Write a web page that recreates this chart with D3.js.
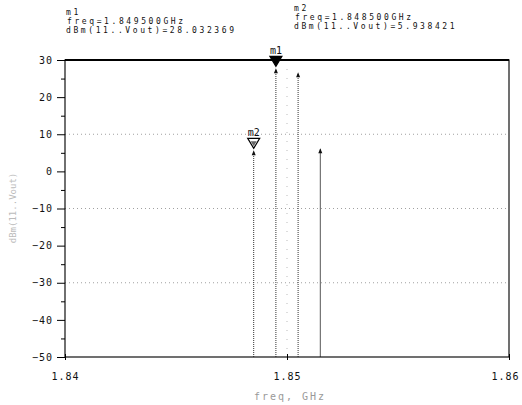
<!DOCTYPE html>
<html>
<head>
<meta charset="utf-8">
<script src="https://d3js.org/d3.v7.min.js"></script>
<style>
  body { margin: 0; background: #fff; }
  text { font-family: "DejaVu Sans Mono", monospace; fill: #111; }
  .tick text { font-size: 10px; letter-spacing: 1px; }
</style>
</head>
<body>
<svg width="522" height="405"></svg>
<script>
// spectrum lines (freq GHz, dBm)
var freqs = [1.8485, 1.8495, 1.8505, 1.8515];
var levels = [5.938421, 28.032369, 27.0, 6.5];
var yTicks = [30, 20, 10, 0, -10, -20, -30, -40, -50];
var xTicks = [1.84, 1.85, 1.86];
var gridLevels = [10, -10, -30];
var markers = [
  {name: "m1", freq: 1.8495, value: 28.032369, filled: true},
  {name: "m2", freq: 1.8485, value: 5.938421, filled: false}
];

var svg = d3.select("svg"),
    margin = {top: 60, right: 13, bottom: 48, left: 65},
    width = 522 - margin.left - margin.right,
    height = 405 - margin.top - margin.bottom,
    g = svg.append("g").attr("transform", "translate(" + margin.left + "," + margin.top + ")");

var x = d3.scaleLinear().domain([1.84, 1.86]).range([0, width]),
    y = d3.scaleLinear().domain([-50, 30]).range([height, 0]);

// faint dotted grid
g.selectAll(".grid").data(gridLevels).enter().append("line")
  .attr("x1", 0).attr("x2", width)
  .attr("y1", function(d) { return y(d); }).attr("y2", function(d) { return y(d); })
  .attr("stroke", "#888").attr("stroke-width", 0.8).attr("stroke-dasharray", "1,3");
g.append("line")
  .attr("x1", x(1.85)).attr("x2", x(1.85)).attr("y1", y(30)).attr("y2", y(-50))
  .attr("stroke", "#aaa").attr("stroke-width", 0.8).attr("stroke-dasharray", "1,8");

// spectral lines with arrowheads
var lines = g.selectAll(".spec").data(freqs).enter().append("g");
lines.append("line")
  .attr("x1", function(d) { return x(d); }).attr("x2", function(d) { return x(d); })
  .attr("y1", y(-50))
  .attr("y2", function(d, i) { return y(levels[i]) + 2; })
  .attr("stroke", function(d, i) { return i == 3 ? "#555" : "#333"; })
  .attr("stroke-width", 1)
  .attr("stroke-dasharray", function(d, i) { return i == 3 ? null : "1,1"; });
lines.append("path")
  .attr("d", function(d, i) {
    var px = x(d), py = y(levels[i]) + 1;
    return "M" + px + "," + py + "l-2,5l4,0z";
  })
  .attr("fill", "#111");

// frame
g.append("rect").attr("width", width).attr("height", height)
  .attr("fill", "none").attr("stroke", "#111").attr("stroke-width", 1.2);
g.append("line").attr("x1", 0).attr("x2", width).attr("y1", 0).attr("y2", 0)
  .attr("stroke", "#000").attr("stroke-width", 2);

// axes
var yAxis = g.append("g")
  .call(d3.axisLeft(y).tickValues(yTicks).tickSize(8).tickPadding(4));
yAxis.select(".domain").remove();
g.append("g")
  .call(d3.axisLeft(y).tickValues(d3.range(-45, 30, 10)).tickSize(4).tickFormat(""))
  .select(".domain").remove();
var xAxis = g.append("g").attr("transform", "translate(0," + height + ")")
  .call(d3.axisBottom(x).tickValues(xTicks).tickSize(6).tickPadding(10).tickFormat(d3.format(".2f")));
xAxis.select(".domain").remove();
xAxis.selectAll(".tick line").attr("transform", "translate(0,-3)");
xAxis.selectAll(".tick text").filter(function(d) { return d === 1.86; }).attr("dx", -4);

// axis titles
svg.append("text").attr("x", 290).attr("y", 400).attr("text-anchor", "middle")
  .style("font-size", "10px").style("letter-spacing", "2px").style("fill", "#999")
  .text("freq, GHz");
svg.append("text").attr("transform", "translate(16,208) rotate(-90)")
  .attr("text-anchor", "middle").style("font-size", "9px").style("fill", "#bbb")
  .text("dBm(11..Vout)");

// markers
markers.forEach(function(m) {
  var px = x(m.freq), py = y(m.value);
  g.append("path")
    .attr("d", "M" + (px - 6) + "," + (py - 11) + "L" + (px + 6) + "," + (py - 11) + "L" + px + "," + (py - 1) + "Z")
    .attr("fill", m.filled ? "#000" : "#fff").attr("stroke", "#000").attr("stroke-width", 1.2);
  if (!m.filled) {
    g.append("path")
      .attr("d", "M" + (px - 3) + "," + (py - 8) + "L" + (px + 3) + "," + (py - 8) + "L" + px + "," + (py - 3) + "Z")
      .attr("fill", "#666");
  }
  g.append("text").attr("x", px).attr("y", py - 13).attr("text-anchor", "middle")
    .style("font-size", "10px").text(m.name);
});

// marker readouts
var readouts = [
  {x: 66, y: 15, m: markers[0]},
  {x: 294, y: 11, m: markers[1]}
];
readouts.forEach(function(r) {
  var t = svg.append("text").attr("x", r.x).attr("y", r.y)
    .style("font-size", "8px").style("letter-spacing", "2.6px");
  t.append("tspan").attr("x", r.x).attr("dy", 0).text(r.m.name);
  t.append("tspan").attr("x", r.x + 1).attr("dy", 9).text("freq=" + r.m.freq.toFixed(6) + "GHz");
  t.append("tspan").attr("x", r.x).attr("dy", 9).text("dBm(11..Vout)=" + r.m.value.toFixed(6));
});
</script>
</body>
</html>
